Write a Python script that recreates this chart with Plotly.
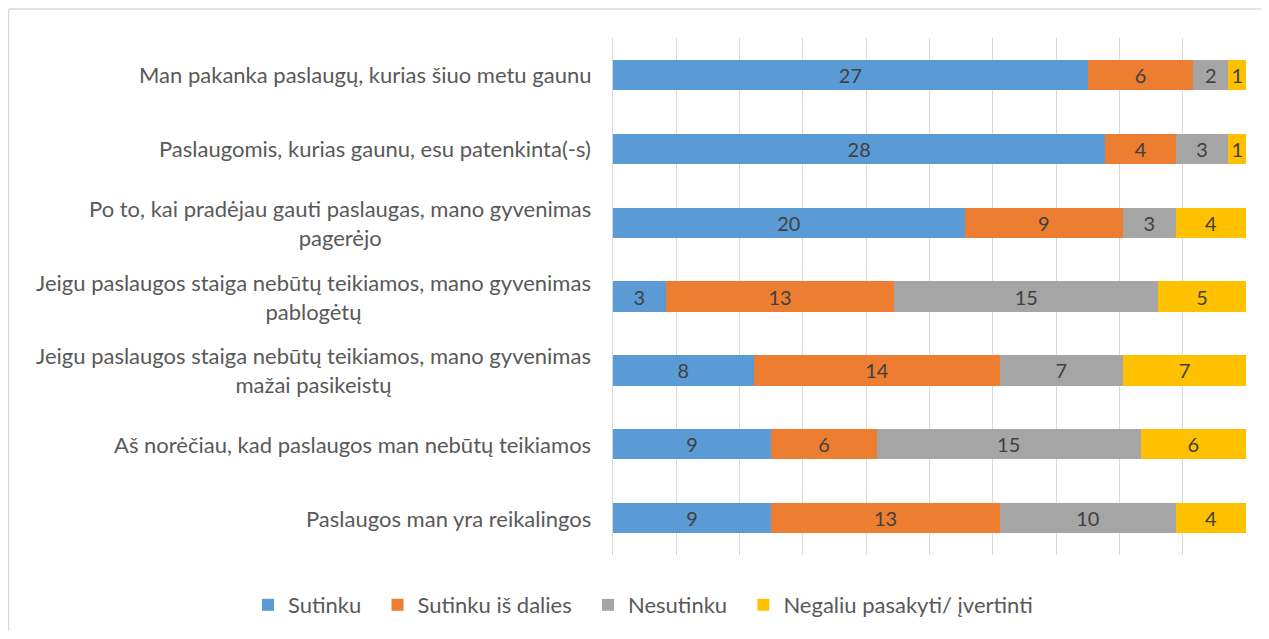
import plotly.graph_objects as go

categories = [
    "Man pakanka paslaugų, kurias šiuo metu gaunu",
    "Paslaugomis, kurias gaunu, esu patenkinta(-s)",
    "Po to, kai pradėjau gauti paslaugas, mano gyvenimas<br>pagerėjo",
    "Jeigu paslaugos staiga nebūtų teikiamos, mano gyvenimas<br>pablogėtų",
    "Jeigu paslaugos staiga nebūtų teikiamos, mano gyvenimas<br>mažai pasikeistų",
    "Aš norėčiau, kad paslaugos man nebūtų teikiamos",
    "Paslaugos man yra reikalingos",
]
series_names = ["Sutinku", "Sutinku iš dalies", "Nesutinku", "Negaliu pasakyti/ įvertinti"]
sutinku = [27, 28, 20, 3, 8, 9, 9]
sutinku_is_dalies = [6, 4, 9, 13, 14, 6, 13]
nesutinku = [2, 3, 3, 15, 7, 15, 10]
negaliu = [1, 1, 4, 5, 7, 6, 4]
series_values = [sutinku, sutinku_is_dalies, nesutinku, negaliu]
colors = ["#5B9BD5", "#ED7D31", "#A5A5A5", "#FFC000"]

FONT = "Lato, Carlito, Calibri, sans-serif"
ykeys = list(range(len(categories)))

# page has an 8px body margin; figure sized/offset to compensate
W, H = 1253, 623
L, R, T, B = 605, 15, 30, 76
PW = W - L - R
PH = H - T - B

fig = go.Figure()
for i, (name, vals, col) in enumerate(zip(series_names, series_values, colors)):
    pad = "\u00a0\u00a0" if i < len(series_names) - 1 else ""
    fig.add_trace(go.Bar(
        y=ykeys, x=vals, name=name + pad, orientation="h",
        marker=dict(color=col, line=dict(width=0)),
        text=[str(v) for v in vals], textposition="inside",
        insidetextanchor="middle", textangle=0,
        textfont=dict(family=FONT, size=21, color="#404040"),
        width=0.41,
    ))

total = sum(sum(s) for s in zip(*series_values)) / len(categories)

for k, cat in zip(ykeys, categories):
    fig.add_annotation(
        x=0, xref="paper", y=k, yref="y", text=cat, showarrow=False,
        xanchor="right", yanchor="middle", align="center", xshift=-20,
        font=dict(family=FONT, size=22, color="#595959"),
    )

# chart frame (top and left edges visible)
fig.add_shape(type="line", xref="paper", yref="paper",
              x0=(0.5 - L) / PW, x1=(W + 20 - L) / PW,
              y0=1 + (T - 1) / PH, y1=1 + (T - 1) / PH,
              line=dict(color="#D9D9D9", width=1.5))
fig.add_shape(type="line", xref="paper", yref="paper",
              x0=(0.5 - L) / PW, x1=(0.5 - L) / PW,
              y0=1 + (T - 1) / PH, y1=-(B + 20) / PH,
              line=dict(color="#D9D9D9", width=1.5))

fig.update_layout(
    barmode="stack",
    width=W, height=H,
    margin=dict(l=L, r=R, t=T, b=B, autoexpand=False),
    paper_bgcolor="white", plot_bgcolor="white",
    font=dict(family=FONT, size=22, color="#595959"),
    showlegend=True,
    legend=dict(orientation="h", xref="paper", yref="paper",
                x=(248 - 8 - L) / PW, xanchor="left",
                y=-(605 - 555) / PH, yanchor="middle",
                font=dict(family=FONT, size=22, color="#595959"),
                itemwidth=30, traceorder="normal", bgcolor="rgba(0,0,0,0)"),
    xaxis=dict(range=[0, total], dtick=total / 10, tick0=0,
               showgrid=True, gridcolor="#D9D9D9", gridwidth=1,
               showticklabels=False, zeroline=False, showline=False, fixedrange=True),
    yaxis=dict(range=[len(categories) - 0.5, -0.5], showticklabels=False,
               showgrid=False, zeroline=False, showline=True, linecolor="#D9D9D9",
               linewidth=1, fixedrange=True),
    uniformtext=dict(minsize=10, mode="show"),
)

fig.write_html("out.html")
